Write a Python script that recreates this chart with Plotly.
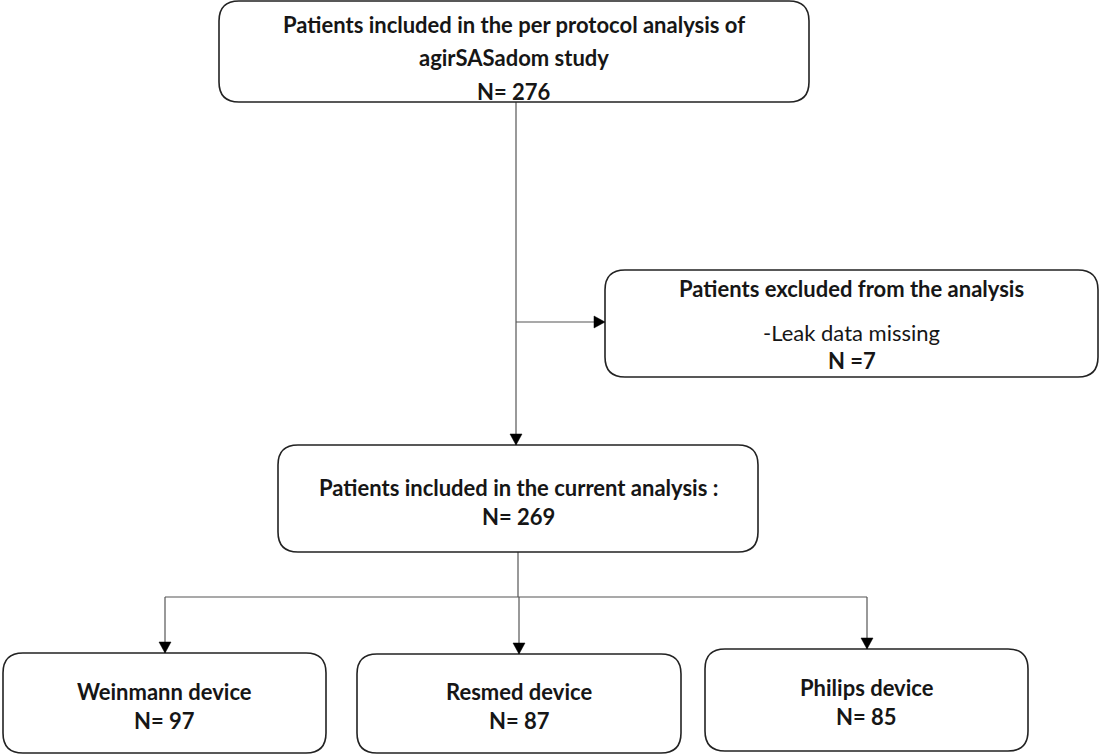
import plotly.graph_objects as go

# ---- content ----
top_lines = ["Patients included in the per protocol analysis of", "agirSASadom study", "N= 276"]
excl_title = "Patients excluded from the analysis"
excl_reason = "-Leak data missing"
excl_n = "N =7"
current_lines = ["Patients included in the current analysis :", "N= 269"]
devices = ["Weinmann device", "Resmed device", "Philips device"]
device_n = [97, 87, 85]

# ---- layout geometry (pixels, y downward) ----
box_top = (219, 1, 809, 102)
box_excl = (605, 270, 1098, 377)
box_cur = (278, 445, 758, 552)
box_dev = [(3, 653, 326, 753), (357, 654, 681, 753), (705, 649, 1028, 751)]
top_y = [24, 57, 91]
excl_y = [288, 332, 360]
cur_y = [487, 516]
dev_y = [(691, 720), (691, 720), (687, 716)]

FONT = "Lato"
SIZE = 22
LINE = "#555555"
BORDER = "#222222"
TXT = "#161616"

def rounded(x0, y0, x1, y1, r=20):
    return (f"M{x0+r},{y0} L{x1-r},{y0} Q{x1},{y0} {x1},{y0+r} "
            f"L{x1},{y1-r} Q{x1},{y1} {x1-r},{y1} L{x0+r},{y1} "
            f"Q{x0},{y1} {x0},{y1-r} L{x0},{y0+r} Q{x0},{y0} {x0+r},{y0} Z")

shapes = []
for (x0, y0, x1, y1) in [box_top, box_excl, box_cur] + box_dev:
    shapes.append(dict(type="path", path=rounded(x0, y0, x1, y1), xref="x", yref="y",
                       line=dict(color=BORDER, width=1.6), fillcolor="white", layer="above"))

def line(x0, y0, x1, y1):
    shapes.append(dict(type="line", x0=x0, y0=y0, x1=x1, y1=y1, xref="x", yref="y",
                       line=dict(color=LINE, width=1.2), layer="below"))

def arrow_down(x, y):
    shapes.append(dict(type="path", path=f"M{x-6},{y-11} L{x+6},{y-11} L{x},{y} Z",
                       xref="x", yref="y", fillcolor="black", line=dict(color="black", width=0.5), layer="above"))

def arrow_right(x, y):
    shapes.append(dict(type="path", path=f"M{x-11},{y-6} L{x-11},{y+6} L{x},{y} Z",
                       xref="x", yref="y", fillcolor="black", line=dict(color="black", width=0.5), layer="above"))

# connectors
line(516, 102, 516, 445)
arrow_down(516, 445)
line(516, 322, 600, 322)
arrow_right(605, 322)
line(518, 552, 518, 597)
line(165, 597, 867, 597)
line(165, 597, 165, 653)
arrow_down(165, 653)
line(519, 597, 519, 654)
arrow_down(519, 654)
line(867, 597, 867, 649)
arrow_down(867, 649)

annotations = []
def text(x, y, t, bold=True):
    annotations.append(dict(x=x, y=y, xref="x", yref="y", text=f"<b>{t}</b>" if bold else t,
                            showarrow=False, font=dict(family=FONT, size=SIZE, color=TXT),
                            xanchor="center", yanchor="middle"))

cx = lambda b: (b[0] + b[2]) / 2
for t, y in zip(top_lines, top_y):
    text(cx(box_top), y, t)
text(cx(box_excl), excl_y[0], excl_title)
text(cx(box_excl), excl_y[1], excl_reason, bold=False)
text(cx(box_excl), excl_y[2], excl_n)
for t, y in zip(current_lines, cur_y):
    text(cx(box_cur), y, t)
for b, name, n, (y1, y2) in zip(box_dev, devices, device_n, dev_y):
    text(cx(b), y1, name)
    text(cx(b), y2, f"N= {n}")

fig = go.Figure()
fig.update_layout(
    width=1100, height=755, margin=dict(l=0, r=0, t=0, b=0),
    paper_bgcolor="white", plot_bgcolor="white",
    xaxis=dict(range=[0, 1100], visible=False, fixedrange=True),
    yaxis=dict(range=[755, 0], visible=False, fixedrange=True),
    shapes=shapes, annotations=annotations, showlegend=False,
)
fig.write_html("out.html", config={"displayModeBar": False},
               post_script="document.body.style.margin='0';document.body.style.overflow='hidden';")
